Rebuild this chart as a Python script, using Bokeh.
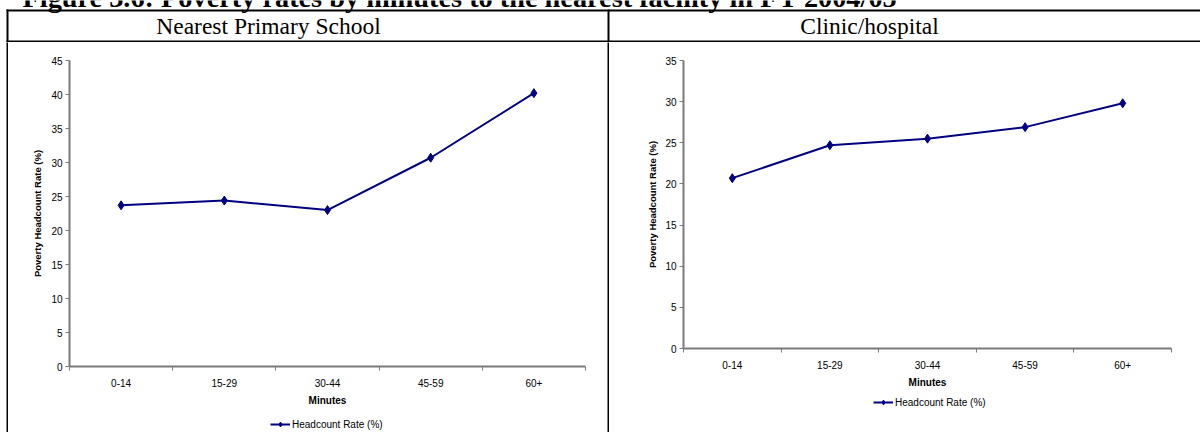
from bokeh.plotting import figure
from bokeh.layouts import column, row
from bokeh.models import Range1d, FixedTicker, Legend, LegendItem
from bokeh.core.properties import value
from bokeh.embed import file_html
from bokeh.resources import INLINE

# ---- data ----
title_text = "Figure 3.6: Poverty rates by minutes to the nearest facility in FY 2004/05"
panel_titles = ["Nearest Primary School", "Clinic/hospital"]
minutes = ["0-14", "15-29", "30-44", "45-59", "60+"]
school_rate = [23.7, 24.4, 23.0, 30.7, 40.2]
clinic_rate = [20.7, 24.7, 25.5, 26.9, 29.8]
school_ymax = 45
clinic_ymax = 35
y_label = "Poverty Headcount Rate (%)"
x_label = "Minutes"
series_name = "Headcount Rate (%)"

NAVY = "#000080"
AXIS = "#7a7a7a"
SANS = "Liberation Sans"
SERIF = "Liberation Serif"
HDR_H = 42
CH_H = 432 - HDR_H
TXT_SHIFT = 8  # compensation for baseline placement in the header strip
TOP_B = 18
BOT_B = 40


def strip(w, h, color):
    s = figure(width=w, height=h, output_backend="svg", toolbar_location=None,
               min_border=0, outline_line_color=None,
               x_axis_type=None, y_axis_type=None,
               background_fill_color=color, border_fill_color=color,
               x_range=Range1d(0, 1), y_range=Range1d(0, 1))
    s.xgrid.visible = False
    s.ygrid.visible = False
    s.scatter([0.5], [0.5], size=0, alpha=0)
    return s


# ---- header (title + table header row) ----
hdr = figure(width=1200, height=HDR_H, output_backend="svg", toolbar_location=None,
             min_border=0, outline_line_color=None, x_axis_type=None, y_axis_type=None,
             x_range=Range1d(0, 1200), y_range=Range1d(HDR_H, 0))
hdr.xgrid.visible = False
hdr.ygrid.visible = False
hdr.text(x=[22], y=[5 - TXT_SHIFT], text=[title_text], text_font=value(SERIF), text_font_style="bold",
         text_font_size="28.3px", text_baseline="alphabetic", text_align="left", text_color="black")
hdr.text(x=[268, 869], y=[33 - TXT_SHIFT] * 2, text=panel_titles, text_font=value(SERIF),
         text_font_size="23.5px", text_baseline="alphabetic", text_align="center", text_color="black")
hdr.segment(x0=[6, 6], y0=[10, 41], x1=[1200, 1200], y1=[10, 41], line_color="black", line_width=2)
hdr.segment(x0=[7, 608], y0=[9, 9], x1=[7, 608], y1=[HDR_H, HDR_H], line_color="black", line_width=2)


def chart(width, frame_h, ymax, vals, mb, ylab_standoff):
    n = len(minutes)
    xs = [2 * i + 1 for i in range(n)]
    p = figure(width=width, height=TOP_B + frame_h + BOT_B, output_backend="svg",
               toolbar_location=None,
               x_range=Range1d(0, 2 * n), y_range=Range1d(0, ymax),
               min_border_left=mb[0], min_border_right=mb[1],
               min_border_top=TOP_B, min_border_bottom=BOT_B,
               outline_line_color=None, background_fill_color="white",
               border_fill_color="white")
    p.xgrid.visible = False
    p.ygrid.visible = False
    p.line(xs, vals, line_color=NAVY, line_width=2)
    p.scatter(xs, vals, marker="diamond", size=9, fill_color=NAVY, line_color=NAVY)

    xa = p.xaxis[0]
    xa.ticker = FixedTicker(ticks=xs, minor_ticks=list(range(0, 2 * n + 1, 2)))
    xa.major_label_overrides = {x: c for x, c in zip(xs, minutes)}
    xa.major_tick_out = 0
    xa.major_tick_in = 0
    xa.minor_tick_out = 4
    xa.minor_tick_in = 0
    xa.minor_tick_line_color = AXIS
    xa.axis_line_color = AXIS
    xa.axis_line_width = 2
    xa.major_label_standoff = 8
    xa.major_label_text_font = SANS
    xa.major_label_text_font_size = "10px"
    xa.major_label_text_color = "black"
    xa.axis_label = x_label
    xa.axis_label_text_font = SANS
    xa.axis_label_text_font_size = "10px"
    xa.axis_label_text_font_style = "bold"
    xa.axis_label_text_color = "black"
    xa.axis_label_standoff = 5

    ya = p.yaxis[0]
    ya.ticker = FixedTicker(ticks=list(range(0, ymax + 1, 5)))
    ya.major_tick_out = 4
    ya.major_tick_in = 0
    ya.minor_tick_out = 0
    ya.minor_tick_in = 0
    ya.major_tick_line_color = AXIS
    ya.axis_line_color = AXIS
    ya.axis_line_width = 2
    ya.major_label_standoff = 3
    ya.major_label_text_font = SANS
    ya.major_label_text_font_size = "10px"
    ya.major_label_text_color = "black"
    ya.axis_label = y_label
    ya.axis_label_text_font = SANS
    ya.axis_label_text_font_size = "9.5px"
    ya.axis_label_text_font_style = "bold"
    ya.axis_label_text_color = "black"
    ya.axis_label_standoff = ylab_standoff
    return p


def legend_box(width, height, mb, loc, vals):
    # legend strip under a chart; the series is drawn here only as the legend's
    # source and lies outside this strip's 0..1 ranges, so it is not visible
    n = len(minutes)
    xs = [2 * i + 1 for i in range(n)]
    q = figure(width=width, height=height, output_backend="svg", toolbar_location=None,
               x_range=Range1d(0, 1), y_range=Range1d(0, 1),
               min_border_left=mb[0], min_border_right=mb[1],
               min_border_top=0, min_border_bottom=0,
               x_axis_type=None, y_axis_type=None, outline_line_color=None,
               background_fill_color="white", border_fill_color="white")
    q.xgrid.visible = False
    q.ygrid.visible = False
    r_line = q.line(xs, vals, line_color=NAVY, line_width=2)
    r_pts = q.scatter(xs, vals, marker="diamond", size=9, fill_color=NAVY, line_color=NAVY)
    leg = Legend(items=[LegendItem(label=series_name, renderers=[r_line, r_pts])],
                 location=loc, orientation="horizontal",
                 padding=0, margin=0, spacing=0, label_standoff=2,
                 glyph_width=20, glyph_height=12, label_height=12,
                 label_text_font=SANS, label_text_font_size="10px", label_text_color="black",
                 border_line_color=None, background_fill_alpha=0)
    q.add_layout(leg)
    return q


L_MB = (61, 22)
R_MB = (74, 29)
left = chart(599, 308, school_ymax, school_rate, L_MB, 5)
right = chart(591, 290, clinic_ymax, clinic_rate, R_MB, 4)
left_leg = legend_box(599, CH_H - left.height, L_MB, (201, 2), school_rate)
right_leg = legend_box(591, CH_H - right.height, R_MB, (190, 24), clinic_rate)

body = row(strip(6, CH_H, "white"), strip(2, CH_H, "black"),
           column(left, left_leg, spacing=0),
           strip(2, CH_H, "black"),
           column(right, right_leg, spacing=0), spacing=0)
page = column(hdr, body, spacing=0)

open("out.html", "w").write(file_html(page, INLINE))
